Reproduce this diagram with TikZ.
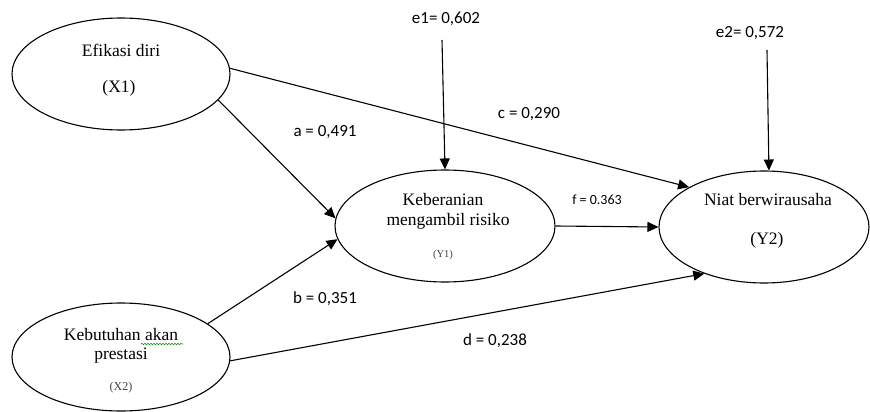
\documentclass[tikz,border=0pt]{standalone}
\usepackage{fontspec}
\setmainfont{Liberation Serif}
\newfontfamily\lab{Carlito}
\usetikzlibrary{shapes.geometric,arrows.meta,decorations.pathmorphing}
\tikzset{
  ell/.style={draw, ellipse, line width=1.1pt, inner sep=0pt},
  arr/.style={line width=1.1pt, -{Triangle[length=11pt,width=10pt]}},
  serif/.style={font=\fontsize{17.5}{19}\selectfont, inner sep=0pt},
  small/.style={text=black!75, inner sep=0pt},
  coef/.style={font=\lab\fontsize{17}{19}\selectfont, inner sep=0pt},
  coefs/.style={font=\lab\fontsize{14}{16}\selectfont, inner sep=0pt},
}
\begin{document}
\begin{tikzpicture}[x=1pt,y=-1pt]
\useasboundingbox (0,0) rectangle (870,412);
% ellipses
\node[ell, minimum width=218pt, minimum height=112pt] (X1) at (121,74) {};
\node[ell, minimum width=218pt, minimum height=108pt] (X2) at (121,357) {};
\node[ell, minimum width=220pt, minimum height=112pt] (Y1) at (445,226) {};
\node[ell, minimum width=210pt, minimum height=112pt] (Y2) at (764,227) {};
% texts
\node[serif] (t1) at (121,50) {Efikasi diri};
\node[serif] (t2) at (119,88) {(X1)};
\node[serif] (t3) at (121,335) {Kebutuhan akan};
\node[serif] (t4) at (121,356) {prestasi};
\node[small, font=\fontsize{12}{14}\selectfont] (t5) at (121,388) {(X2)};
\node[serif] (t6) at (443,200) {Keberanian};
\node[serif] (t7) at (448,221) {mengambil risiko};
\node[small, font=\fontsize{10.5}{12}\selectfont] (t8) at (443,255) {(Y1)};
\node[serif] (t9) at (768,200) {Niat berwirausaha};
\node[serif] (t10) at (767,240) {(Y2)};
\draw[green!60!black, line width=0.6pt, decorate, decoration={snake, amplitude=0.7pt, segment length=3pt}] (141,344) -- (183,344);
% coefficient labels
\node[coef] (e1) at (446,19) {e1= 0,602};
\node[coef] (e2) at (750,33) {e2= 0,572};
\node[coef] (la) at (325,132) {a = 0,491};
\node[coef] (lb) at (325,299) {b = 0,351};
\node[coef] (lc) at (529,114) {c = 0,290};
\node[coef] (ld) at (495,341) {d = 0,238};
\node[coefs] (lf) at (597,200) {f = 0.363};
% connectors
\coordinate (e1s) at (442,40);
\coordinate (e2s) at (767,50);
\draw[arr] (e1s) -- (Y1.north);
\draw[arr] (e2s) -- (Y2.85);
\draw[arr] (X1.3) -- (Y2.152);
\draw[arr] (X1.-15) -- (Y1.176);
\draw[arr] (X2.21) -- (Y1.-173);
\draw[arr] (X2.-2) -- (Y2.-142);
\draw[arr] (Y1.east) -- (Y2.west);
\end{tikzpicture}
\end{document}
